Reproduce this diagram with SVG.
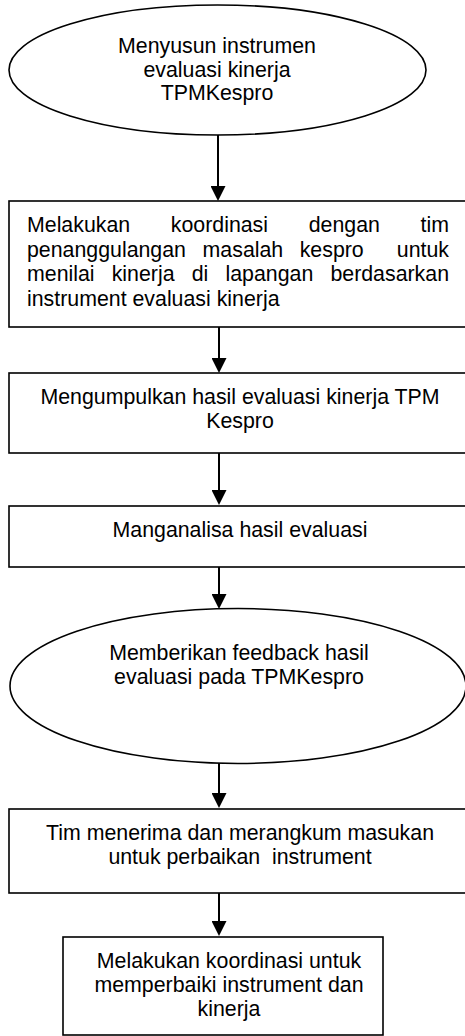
<svg xmlns="http://www.w3.org/2000/svg" width="465" height="1036" viewBox="0 0 465 1036">
<style>
.shape{fill:#fff;stroke:#000;stroke-width:1.6}
.t{font-family:"Liberation Sans",Arial,sans-serif;font-size:21.33px;fill:#000;white-space:pre}
.c{text-anchor:middle}
.e{text-anchor:end}
.conn{stroke:#000;stroke-width:2;fill:none}
</style>
<defs>
<marker id="ah" viewBox="0 0 16 16" refX="14" refY="8" markerWidth="16" markerHeight="15" markerUnits="userSpaceOnUse" orient="auto">
<path d="M0,0 L16,8 L0,16 z" fill="#000"/>
</marker>
</defs>
<rect width="465" height="1036" fill="#fff"/>
<g id="connectors">
<line class="conn" x1="218" y1="135" x2="218" y2="199" marker-end="url(#ah)"/>
<line class="conn" x1="219" y1="327" x2="219" y2="371" marker-end="url(#ah)"/>
<line class="conn" x1="219" y1="453" x2="219" y2="503" marker-end="url(#ah)"/>
<line class="conn" x1="219" y1="567" x2="219" y2="607" marker-end="url(#ah)"/>
<line class="conn" x1="219" y1="763" x2="219" y2="806" marker-end="url(#ah)"/>
<line class="conn" x1="219" y1="893" x2="219" y2="934" marker-end="url(#ah)"/>
</g>
<g id="n1">
<ellipse class="shape" cx="217.5" cy="70" rx="208.5" ry="65"/>
<text class="t c" x="217" y="53">Menyusun instrumen</text>
<text class="t c" x="217" y="76.5">evaluasi kinerja</text>
<text class="t c" x="217" y="100">TPMKespro</text>
</g>
<g id="n2">
<rect class="shape" x="9" y="201" width="458" height="126"/>
<text class="t" x="27" y="232">Melakukan</text>
<text class="t" x="170.8" y="232">koordinasi</text>
<text class="t" x="308.7" y="232">dengan</text>
<text class="t e" x="449" y="232">tim</text>
<text class="t" x="27" y="256.5">penanggulangan</text>
<text class="t" x="202.6" y="256.5">masalah</text>
<text class="t" x="299.7" y="256.5">kespro</text>
<text class="t e" x="449" y="256.5">untuk</text>
<text class="t" x="27" y="281">menilai</text>
<text class="t" x="111.7" y="281">kinerja</text>
<text class="t" x="191.7" y="281">di</text>
<text class="t" x="225.5" y="281">lapangan</text>
<text class="t e" x="449" y="281">berdasarkan</text>
<text class="t" x="27" y="305.5">instrument evaluasi kinerja</text>
</g>
<g id="n3">
<rect class="shape" x="9" y="373" width="458" height="80"/>
<text class="t c" x="240" y="404">Mengumpulkan hasil evaluasi kinerja TPM</text>
<text class="t c" x="240" y="428">Kespro</text>
</g>
<g id="n4">
<rect class="shape" x="9" y="506" width="458" height="61"/>
<text class="t c" x="240" y="537">Manganalisa hasil evaluasi</text>
</g>
<g id="n5">
<ellipse class="shape" cx="238" cy="686" rx="228" ry="77.5"/>
<text class="t c" x="239" y="660">Memberikan feedback hasil</text>
<text class="t c" x="239" y="683.5">evaluasi pada TPMKespro</text>
</g>
<g id="n6">
<rect class="shape" x="9" y="809" width="458" height="84"/>
<text class="t c" x="240" y="840">Tim menerima dan merangkum masukan</text>
<text class="t c" x="240" y="864">untuk perbaikan  instrument</text>
</g>
<g id="n7">
<rect class="shape" x="63" y="937" width="320" height="98"/>
<text class="t c" x="229" y="967.5">Melakukan koordinasi untuk</text>
<text class="t c" x="229" y="991.5">memperbaiki instrument dan</text>
<text class="t c" x="229" y="1015.5">kinerja</text>
</g>
</svg>
